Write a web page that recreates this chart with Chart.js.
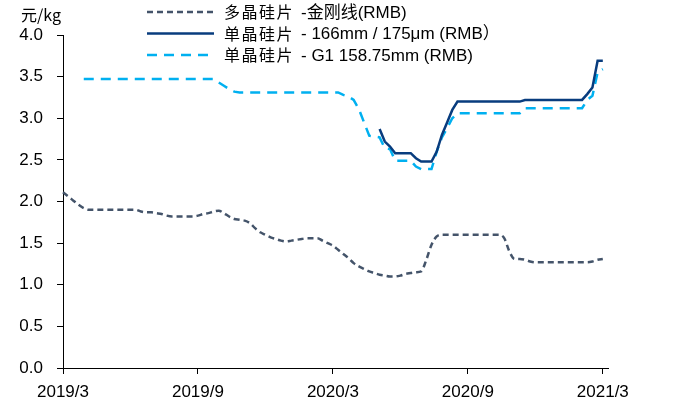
<!DOCTYPE html>
<html>
<head>
<meta charset="utf-8">
<script src="https://cdn.jsdelivr.net/npm/chart.js@4.4.1/dist/chart.umd.min.js"></script>
<style>
  html, body { margin: 0; padding: 0; background: #fff; }
  #wrap { width: 673px; height: 403px; }
</style>
</head>
<body>
<div id="wrap"><canvas id="canvas" width="673" height="403"></canvas></div>
<script>
// weekly points, 2019/3 .. 2021/3
const tickLabels = ["2019/3", "2019/9", "2020/3", "2020/9", "2021/3"];
const tickWeeks = [0, 26, 52, 78, 104];
const seriesNames = ["多晶硅片 -金刚线(RMB)", "单晶硅片 - 166mm / 175μm (RMB）", "单晶硅片 - G1 158.75mm (RMB)"];

const polyPrice = [
  2.11, 2.06, 2.01, 1.96, 1.92, 1.90, 1.90, 1.90, 1.90, 1.90,
  1.90, 1.90, 1.90, 1.90, 1.90, 1.88, 1.87, 1.87, 1.86, 1.85,
  1.83, 1.82, 1.82, 1.82, 1.82, 1.82, 1.83, 1.85, 1.86, 1.88,
  1.89, 1.86, 1.82, 1.79, 1.78, 1.77, 1.74, 1.68, 1.63, 1.60,
  1.57, 1.55, 1.53, 1.52, 1.53, 1.54, 1.55, 1.56, 1.56, 1.56,
  1.53, 1.50, 1.47, 1.42, 1.37, 1.32, 1.26, 1.22, 1.19, 1.16,
  1.14, 1.12, 1.11, 1.10, 1.10, 1.11, 1.13, 1.14, 1.15, 1.16,
  1.30, 1.48, 1.58, 1.60, 1.60, 1.60, 1.60, 1.60, 1.60, 1.60,
  1.60, 1.60, 1.60, 1.60, 1.60, 1.56, 1.40, 1.31, 1.31, 1.30,
  1.28, 1.27, 1.27, 1.27, 1.27, 1.27, 1.27, 1.27, 1.27, 1.27,
  1.27, 1.27, 1.28, 1.30, 1.31
];

const mono166 = [
  null, null, null, null, null, null, null, null, null, null,
  null, null, null, null, null, null, null, null, null, null,
  null, null, null, null, null, null, null, null, null, null,
  null, null, null, null, null, null, null, null, null, null,
  null, null, null, null, null, null, null, null, null, null,
  null, null, null, null, null, null, null, null, null, null,
  null, 2.87, 2.72, 2.66, 2.58, 2.58, 2.58, 2.58, 2.52, 2.48,
  2.48, 2.48, 2.60, 2.80, 2.95, 3.10, 3.20, 3.20, 3.20, 3.20,
  3.20, 3.20, 3.20, 3.20, 3.20, 3.20, 3.20, 3.20, 3.20, 3.22,
  3.22, 3.22, 3.22, 3.22, 3.22, 3.22, 3.22, 3.22, 3.22, 3.22,
  3.22, 3.29, 3.37, 3.69, 3.69
];

const monoG1 = [
  null, null, null, null, 3.47, 3.47, 3.47, 3.47, 3.47, 3.47,
  3.47, 3.47, 3.47, 3.47, 3.47, 3.47, 3.47, 3.47, 3.47, 3.47,
  3.47, 3.47, 3.47, 3.47, 3.47, 3.47, 3.47, 3.47, 3.47, 3.47,
  3.43, 3.39, 3.35, 3.32, 3.31, 3.31, 3.31, 3.31, 3.31, 3.31,
  3.31, 3.31, 3.31, 3.31, 3.31, 3.31, 3.31, 3.31, 3.31, 3.31,
  3.31, 3.31, 3.31, 3.31, 3.28, 3.26, 3.22, 3.11, 2.95, 2.79,
  2.78, 2.77, 2.64, 2.63, 2.49, 2.49, 2.49, 2.49, 2.42, 2.39,
  2.39, 2.39, 2.60, 2.77, 2.88, 3.00, 3.06, 3.06, 3.06, 3.06,
  3.06, 3.06, 3.06, 3.06, 3.06, 3.06, 3.06, 3.06, 3.06, 3.12,
  3.12, 3.12, 3.12, 3.12, 3.12, 3.12, 3.12, 3.12, 3.12, 3.12,
  3.12, 3.22, 3.27, 3.55, 3.59
];

// one extra empty week so the axis runs a little past 2021/3
const weeks = [];
for (let i = 0; i <= polyPrice.length; i++) weeks.push(i);
const txtFont = '"Liberation Sans", Arial, "Noto Sans CJK SC", sans-serif';

// legend drawn over the plot, like the original
const legendPlugin = {
  id: "topLegend",
  afterDraw(chart) {
    const ctx = chart.ctx;
    ctx.save();
    chart.data.datasets.forEach((ds, i) => {
      const y = 12 + i * 21.5;
      ctx.strokeStyle = ds.borderColor;
      ctx.lineWidth = ds.borderWidth;
      ctx.setLineDash(ds.borderDash || []);
      ctx.beginPath();
      ctx.moveTo(147, y);
      ctx.lineTo(214, y);
      ctx.stroke();
      ctx.setLineDash([]);
      ctx.fillStyle = "#000";
      ctx.textBaseline = "middle";
      ctx.textAlign = "left";
      const name = seriesNames[i];
      const cjk = name.slice(0, 4);
      const rest = name.slice(4);
      ctx.font = '16px "Noto Sans CJK SC", sans-serif';
      for (let k = 0; k < cjk.length; k++) {
        ctx.fillText(cjk[k], 224 + k * 17.5, y);
      }
      ctx.font = "17px " + txtFont;
      ctx.fillText(rest.trim(), 301, y + 1);
    });
    // unit label
    ctx.font = '16px "Noto Sans CJK SC", sans-serif';
    ctx.fillText("元/kg", 21, 15);
    ctx.restore();
  }
};

function dibujarGrafico() {
  const canvas = document.getElementById("canvas").getContext("2d");
  const data = {
    labels: weeks,
    datasets: [{
      label: seriesNames[0],
      data: polyPrice,
      borderColor: "#44546A",
      borderWidth: 2.5,
      borderDash: [6, 4],
      tension: 0.3,
      cubicInterpolationMode: "monotone",
      pointRadius: 0
    }, {
      label: seriesNames[1],
      data: mono166,
      borderColor: "#083C7E",
      borderWidth: 2.5,
      tension: 0,
      pointRadius: 0
    }, {
      label: seriesNames[2],
      data: monoG1,
      borderColor: "#00B0F0",
      borderWidth: 2.5,
      borderDash: [10, 7],
      tension: 0,
      pointRadius: 0
    }]
  };
  const options = {
    responsive: false,
    animation: false,
    layout: { padding: { left: 0, right: 65, top: 35, bottom: 0 } },
    plugins: { legend: { display: false }, tooltip: { enabled: false } },
    scales: {
      x: {
        type: "category",
        offset: false,
        afterBuildTicks: s => { s.ticks = s.ticks.filter(t => tickWeeks.includes(t.value)); },
        afterFit: s => { s.height = 35; },
        grid: { display: true, drawOnChartArea: false, drawTicks: true, tickLength: 6, color: "#000" },
        border: { display: true, color: "#000", width: 1 },
        ticks: {
          autoSkip: false,
          maxRotation: 0,
          minRotation: 0,
          padding: 8,
          color: "#000",
          font: { family: txtFont, size: 17 },
          callback: (v) => tickLabels[tickWeeks.indexOf(v)]
        }
      },
      y: {
        min: 0,
        max: 4,
        afterFit: s => { s.width = 63; },
        grid: { display: true, drawOnChartArea: false, drawTicks: true, tickLength: 6, color: "#000" },
        border: { display: true, color: "#000", width: 1 },
        ticks: {
          stepSize: 0.5,
          padding: 14,
          color: "#000",
          font: { family: txtFont, size: 17 },
          callback: v => v.toFixed(1)
        }
      }
    }
  };
  new Chart(canvas, { type: "line", data: data, options: options, plugins: [legendPlugin] });
}
dibujarGrafico();
</script>
</body>
</html>
